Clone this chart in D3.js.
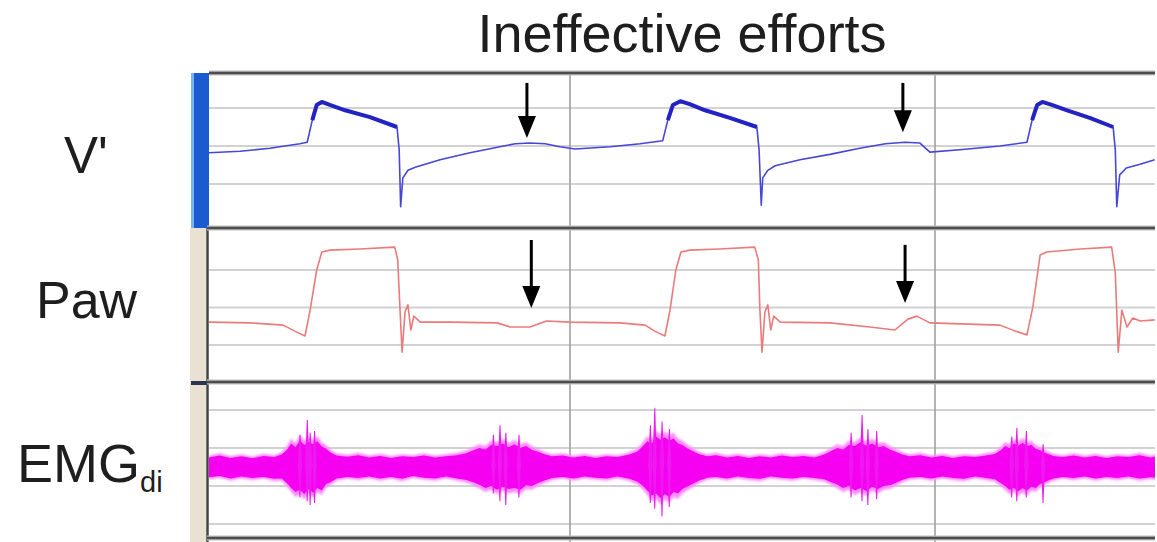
<!DOCTYPE html>
<html>
<head>
<meta charset="utf-8">
<script src="https://cdn.jsdelivr.net/npm/d3@7"></script>
<style>
  body { margin: 0; background: #fff; }
  svg { display: block; font-family: "Liberation Sans", Arial, sans-serif; }
</style>
</head>
<body>
<div id="chart-area"></div>
<script>
// DATA (time in s)
// V' flow, L/s
const flowPts = [
  [0.04, -0.09], [0.48, -0.07], [0.89, -0.03], [1.30, 0.03], [1.40, 0.05],
  [1.47, 0.34], [1.53, 0.54], [1.60, 0.58], [1.71, 0.54], [1.92, 0.47], [2.26, 0.38], [2.63, 0.25],
  [2.66, -0.05], [2.68, -0.80], [2.71, -0.42], [2.78, -0.32], [2.88, -0.28], [3.22, -0.18],
  [3.63, -0.09], [4.04, -0.01], [4.25, 0.03], [4.45, 0.04], [4.66, 0.03], [4.86, -0.01],
  [5.07, -0.04], [5.55, -0.01], [5.96, 0.03], [6.27, 0.07],
  [6.34, 0.34], [6.41, 0.54], [6.51, 0.59], [6.64, 0.55], [6.85, 0.47], [7.19, 0.37], [7.56, 0.25],
  [7.59, -0.05], [7.62, -0.78], [7.64, -0.42], [7.71, -0.32], [7.81, -0.26], [8.15, -0.18],
  [8.56, -0.11], [8.97, -0.03], [9.32, 0.03], [9.59, 0.05], [9.79, 0.04], [9.93, -0.08],
  [10.34, -0.05], [10.89, 0.0], [11.26, 0.05],
  [11.33, 0.34], [11.40, 0.54], [11.47, 0.58], [11.60, 0.54], [11.81, 0.47], [12.12, 0.37], [12.44, 0.25],
  [12.47, -0.05], [12.49, -0.80], [12.53, -0.38], [12.62, -0.29], [12.81, -0.24], [13.01, -0.18]
]

// Paw, cmH2O
const pawPts = [
  [0.04, 6.1], [0.62, 5.9], [1.07, 5.3], [1.23, 3.7], [1.37, 2.4],
  [1.44, 9.3], [1.53, 20.0], [1.60, 24.8], [1.71, 25.3], [2.12, 25.6], [2.60, 26.1],
  [2.64, 22.7], [2.67, 10.1], [2.70, -1.9], [2.74, 8.8], [2.78, 10.7], [2.82, 4.0], [2.86, 7.7],
  [2.95, 6.1], [3.36, 6.1], [4.00, 5.9], [4.18, 4.8], [4.45, 4.8], [4.68, 6.4], [5.00, 6.1],
  [5.68, 5.9], [6.03, 5.3], [6.16, 3.7], [6.30, 2.4],
  [6.37, 9.3], [6.45, 20.0], [6.52, 24.8], [6.64, 25.3], [7.05, 25.6], [7.53, 26.1],
  [7.58, 22.7], [7.60, 10.1], [7.63, -1.9], [7.67, 8.8], [7.71, 10.7], [7.75, 4.0], [7.79, 7.7],
  [7.88, 6.1], [8.56, 5.9], [9.11, 4.8], [9.45, 4.0], [9.63, 6.9], [9.75, 7.7], [9.93, 5.9],
  [10.89, 5.3], [11.10, 3.7], [11.26, 2.7],
  [11.34, 10.1], [11.44, 24.0], [11.53, 24.8], [11.99, 25.6], [12.42, 26.1],
  [12.47, 19.2], [12.51, -1.9], [12.56, 9.3], [12.63, 4.8], [12.71, 7.2], [12.81, 6.4], [13.01, 6.7]
]

// EMGdi envelope [t, upper, lower], arbitrary units
const emgEnv = [
  [0.05, 0.25, -0.27], [0.20, 0.30, -0.24], [0.35, 0.24, -0.30], [0.50, 0.28, -0.25],
  [0.65, 0.23, -0.29], [0.80, 0.29, -0.26], [0.95, 0.26, -0.31], [1.05, 0.33, -0.30],
  [1.12, 0.45, -0.42], [1.18, 0.62, -0.55], [1.24, 0.52, -0.66], [1.30, 0.70, -0.60],
  [1.36, 0.58, -0.72], [1.42, 0.66, -0.58], [1.48, 0.60, -0.68], [1.54, 0.68, -0.55],
  [1.60, 0.54, -0.62], [1.66, 0.48, -0.45], [1.72, 0.38, -0.40], [1.80, 0.30, -0.30],
  [1.95, 0.27, -0.26], [2.10, 0.31, -0.29], [2.25, 0.25, -0.25], [2.40, 0.29, -0.30],
  [2.55, 0.24, -0.26], [2.70, 0.28, -0.31], [2.85, 0.26, -0.24], [3.00, 0.30, -0.28],
  [3.15, 0.25, -0.30], [3.30, 0.28, -0.25], [3.45, 0.31, -0.30], [3.58, 0.36, -0.34],
  [3.68, 0.44, -0.40], [3.76, 0.50, -0.47], [3.84, 0.46, -0.55], [3.92, 0.58, -0.50],
  [4.00, 0.55, -0.60], [4.08, 0.62, -0.52], [4.16, 0.52, -0.58], [4.24, 0.60, -0.55],
  [4.32, 0.50, -0.60], [4.40, 0.55, -0.48], [4.48, 0.45, -0.50], [4.56, 0.40, -0.42],
  [4.64, 0.34, -0.36], [4.75, 0.28, -0.29], [4.90, 0.30, -0.26], [5.05, 0.25, -0.30],
  [5.20, 0.29, -0.25], [5.35, 0.24, -0.28], [5.50, 0.28, -0.30], [5.65, 0.26, -0.25],
  [5.80, 0.32, -0.30], [5.92, 0.40, -0.38], [6.00, 0.55, -0.50], [6.06, 0.68, -0.62],
  [6.12, 0.62, -0.75], [6.18, 0.80, -0.70], [6.24, 0.72, -0.82], [6.30, 0.78, -0.72],
  [6.36, 0.70, -0.78], [6.42, 0.75, -0.66], [6.48, 0.62, -0.70], [6.54, 0.58, -0.58],
  [6.60, 0.50, -0.52], [6.68, 0.42, -0.45], [6.76, 0.34, -0.36], [6.88, 0.28, -0.28],
  [7.00, 0.31, -0.26], [7.15, 0.25, -0.30], [7.30, 0.29, -0.25], [7.45, 0.24, -0.29],
  [7.60, 0.28, -0.31], [7.75, 0.25, -0.25], [7.90, 0.30, -0.28], [8.05, 0.26, -0.30],
  [8.20, 0.29, -0.26], [8.35, 0.25, -0.29], [8.48, 0.33, -0.32], [8.58, 0.42, -0.40],
  [8.66, 0.50, -0.46], [8.74, 0.46, -0.55], [8.82, 0.58, -0.50], [8.90, 0.55, -0.62],
  [8.98, 0.65, -0.55], [9.06, 0.56, -0.63], [9.14, 0.62, -0.52], [9.22, 0.52, -0.58],
  [9.30, 0.55, -0.50], [9.38, 0.46, -0.48], [9.46, 0.40, -0.42], [9.55, 0.33, -0.34],
  [9.65, 0.28, -0.28], [9.80, 0.31, -0.26], [9.95, 0.25, -0.30], [10.10, 0.29, -0.25],
  [10.25, 0.24, -0.29], [10.40, 0.28, -0.31], [10.55, 0.26, -0.25], [10.70, 0.30, -0.29],
  [10.82, 0.34, -0.32], [10.90, 0.44, -0.42], [10.96, 0.55, -0.50], [11.02, 0.50, -0.60],
  [11.08, 0.62, -0.55], [11.14, 0.56, -0.64], [11.20, 0.64, -0.56], [11.26, 0.55, -0.62],
  [11.32, 0.58, -0.52], [11.38, 0.48, -0.55], [11.44, 0.44, -0.45], [11.52, 0.36, -0.38],
  [11.62, 0.29, -0.30], [11.75, 0.26, -0.26], [11.90, 0.30, -0.29], [12.05, 0.25, -0.25],
  [12.20, 0.29, -0.30], [12.35, 0.24, -0.26], [12.50, 0.28, -0.29], [12.65, 0.26, -0.25],
  [12.80, 0.31, -0.30], [12.95, 0.25, -0.27], [13.05, 0.28, -0.28]
]

// EMG spikes [t, top, bottom]
const emgSpikes = [
  [1.30, 0.85, -0.80], [1.40, 1.24, -0.90], [1.44, 0.90, -1.00], [1.50, 0.95, -0.95],
  [3.95, 0.85, -0.70], [4.04, 1.10, -0.90], [4.12, 0.90, -1.00], [4.30, 0.85, -0.80],
  [6.10, 1.10, -0.95], [6.16, 1.55, -1.10], [6.26, 1.20, -1.30], [6.36, 1.00, -1.05],
  [8.85, 0.90, -0.80], [9.00, 1.37, -0.90], [9.08, 1.00, -1.00], [9.20, 0.95, -0.85],
  [11.05, 0.80, -0.80], [11.12, 1.03, -0.90], [11.25, 0.95, -0.80], [11.48, 0.60, -0.95]
]

// grid values
const timeTicks = [5, 10]
const flowTicks = [-0.5, 0, 0.5]
const pawTicks = [0, 10, 20]
const emgTicks = [-1.5, -0.5, 0.5, 1.5]

// ineffective effort arrows [t, from, to]
const flowArrows = [[4.41, 0.83, 0.105], [9.56, 0.83, 0.18]]
const pawArrows = [[4.47, 28.0, 9.9], [9.59, 26.7, 11.2]]

const W = 1157, H = 542
const left = 209, right = 1155
const panels = { flow: [73, 228], paw: [228, 382], emg: [382, 538] }

const svg = d3.select('#chart-area')
              .append('svg')
              .attr('width', W)
              .attr('height', H)

// SCALES
const x = d3.scaleLinear().domain([0, 13]).range([205, 1154])
const yFlow = d3.scaleLinear().domain([-1, 1]).range([222, 70])
const yPaw = d3.scaleLinear().domain([-10, 30]).range([382.5, 232.5])
const yEmg = d3.scaleLinear().domain([-2, 2]).range([543, 391])

const defs = svg.append('defs')
defs.append('clipPath').attr('id', 'plot')
    .append('rect').attr('x', left).attr('y', 73).attr('width', right - left).attr('height', H - 73)
defs.append('filter').attr('id', 'soft')
    .append('feGaussianBlur').attr('stdDeviation', 0.9)

// HORIZONTAL GRID
function hgrid(ticks, scale) {
    svg.append('g').selectAll('line').data(ticks).enter()
       .append('line')
       .attr('x1', left).attr('x2', right)
       .attr('y1', d => scale(d)).attr('y2', d => scale(d))
       .attr('stroke', '#d2d2d2').attr('stroke-width', 2.2)
}
hgrid(flowTicks, yFlow)
hgrid(pawTicks, yPaw)
hgrid(emgTicks, yEmg)

// VERTICAL GRID
svg.append('g').selectAll('line').data(timeTicks).enter()
   .append('line')
   .attr('x1', d => x(d)).attr('x2', d => x(d))
   .attr('y1', 73).attr('y2', H)
   .attr('stroke', '#a0a0a0').attr('stroke-width', 1.6)

// LEFT STRIPS
svg.append('rect').attr('x', 190).attr('y', 228).attr('width', 16).attr('height', H - 228).attr('fill', '#e9e2d3')
svg.append('rect').attr('x', 191).attr('y', 73).attr('width', 3).attr('height', 155).attr('fill', '#7ab4ee')
svg.append('rect').attr('x', 194).attr('y', 73).attr('width', 15).attr('height', 155).attr('fill', '#1a5bd2')
svg.append('line').attr('x1', 207.5).attr('x2', 207.5).attr('y1', 228).attr('y2', H)
   .attr('stroke', '#444').attr('stroke-width', 2.5)
svg.append('rect').attr('x', 191).attr('y', 381).attr('width', 17).attr('height', 4).attr('fill', '#2a3550')

// PANEL BORDERS
const borders = [panels.flow[0], panels.flow[1], panels.paw[1], panels.emg[1]]
svg.append('g').selectAll('line').data(borders).enter()
   .append('line')
   .attr('x1', d => d === 73 ? 209 : 207).attr('x2', right)
   .attr('y1', d => d).attr('y2', d => d)
   .attr('stroke', '#bdbdbd').attr('stroke-width', 5)
svg.append('g').selectAll('line').data(borders).enter()
   .append('line')
   .attr('x1', d => d === 73 ? 209 : 207).attr('x2', right)
   .attr('y1', d => d).attr('y2', d => d)
   .attr('stroke', '#4d4d4d').attr('stroke-width', 2.4)

const plot = svg.append('g').attr('clip-path', 'url(#plot)')

// EMG
const emgArea = d3.area()
                  .x(d => x(d[0]))
                  .y0(d => yEmg(d[2]))
                  .y1(d => yEmg(d[1]))
plot.append('path').datum(emgEnv.map(d => [d[0], d[1] * 1.2, d[2] * 1.2]))
    .attr('d', emgArea).attr('fill', '#ff8cff').attr('filter', 'url(#soft)')
plot.append('path').datum(emgEnv)
    .attr('d', emgArea).attr('fill', '#f500f0')
// spikes as narrow peaks above and below the band
plot.append('g').selectAll('path').data(emgSpikes).enter()
    .append('path')
    .attr('d', d => {
        const cx = x(d[0]), y0 = yEmg(0)
        return `M${cx - 2.2},${y0}L${cx - 0.4},${yEmg(d[1])}L${cx + 0.6},${yEmg(d[1])}L${cx + 2.2},${y0}` +
               `L${cx + 1.8},${y0}L${cx + 0.5},${yEmg(d[2])}L${cx - 0.5},${yEmg(d[2])}L${cx - 1.8},${y0}Z`
    })
    .attr('fill', '#f018f0')

// PAW
const pawLine = d3.line().x(d => x(d[0])).y(d => yPaw(d[1]))
plot.append('path').datum(pawPts)
    .attr('d', pawLine)
    .attr('fill', 'none').attr('stroke', '#ec7a7a').attr('stroke-width', 1.6)
    .attr('stroke-linejoin', 'round')

// FLOW
const flowLine = d3.line().x(d => x(d[0])).y(d => yFlow(d[1]))
plot.append('path').datum(flowPts)
    .attr('d', flowLine)
    .attr('fill', 'none').attr('stroke', '#4646d8').attr('stroke-width', 1.6)
    .attr('stroke-linejoin', 'round')
plot.append('path').datum(flowPts)
    .attr('d', flowLine.defined(d => d[1] > 0.2))
    .attr('fill', 'none').attr('stroke', '#2323c4').attr('stroke-width', 4)
    .attr('stroke-linejoin', 'round')

// ARROWS
function arrows(list, scale) {
    const g = svg.append('g').selectAll('g').data(list).enter().append('g')
    g.append('line')
     .attr('x1', d => x(d[0])).attr('x2', d => x(d[0]))
     .attr('y1', d => scale(d[1])).attr('y2', d => scale(d[2]) - 16)
     .attr('stroke', '#000').attr('stroke-width', 3)
    g.append('path')
     .attr('d', d => {
         const cx = x(d[0]), tip = scale(d[2])
         return `M${cx - 9},${tip - 22}L${cx + 9},${tip - 22}L${cx},${tip}Z`
     })
     .attr('fill', '#000')
}
arrows(flowArrows, yFlow)
arrows(pawArrows, yPaw)

// TEXT
svg.append('text').attr('x', 682).attr('y', 52).attr('text-anchor', 'middle')
   .attr('font-size', 54).attr('fill', '#1e1e1e').text('Ineffective efforts')
svg.append('text').attr('x', 64).attr('y', 173)
   .attr('font-size', 51).attr('fill', '#1e1e1e').text("V'")
svg.append('text').attr('x', 36).attr('y', 318)
   .attr('font-size', 52).attr('fill', '#1e1e1e').text('Paw')
const emgLabel = svg.append('text').attr('x', 17).attr('y', 482)
   .attr('font-size', 54).attr('fill', '#1e1e1e')
emgLabel.append('tspan').text('EMG')
emgLabel.append('tspan').attr('dy', 10).attr('font-size', 29).text('di')
</script>
</body>
</html>
